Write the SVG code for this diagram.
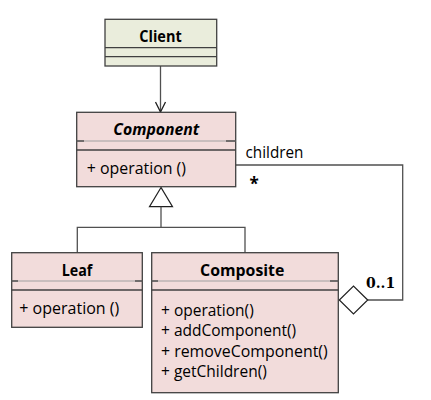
<svg xmlns="http://www.w3.org/2000/svg" width="431" height="400" viewBox="0 0 431 400">
<defs>
<style>
.box{stroke:#404040;stroke-width:1.3}
.client{fill:#eaeddc}
.cls{fill:#f2dcdb}
.sep{stroke:#404040;stroke-width:1.3}
.sepl{stroke:#a0a0a0;stroke-width:1}
.title{font-family:"Open Sans",sans-serif;font-size:15.5px;font-weight:bold;fill:#000;text-anchor:middle}
.m{font-family:"Open Sans",sans-serif;font-size:15.5px;fill:#000}
.conn{stroke:#505050;stroke-width:1.3;fill:none}
</style>
<marker id="open" viewBox="0 0 12 12" refX="11" refY="6" markerWidth="12" markerHeight="12" markerUnits="userSpaceOnUse" orient="auto">
<path d="M1,1 L11,6 L1,11" fill="none" stroke="#202020" stroke-width="1.3"/>
</marker>
</defs>
<g id="connectors">
<line class="conn" x1="160.5" y1="66" x2="160.5" y2="112" marker-end="url(#open)"/>
<polygon points="161,187.5 149.5,206.7 172.5,206.7" fill="#fff" stroke="#202020" stroke-width="1.2"/>
<polyline class="conn" points="161,206.7 161,227.3"/>
<polyline class="conn" points="77.3,252.7 77.3,227.3 245,227.3 245,252.7"/>
<polyline class="conn" points="235.7,165 402.7,165 402.7,300 367.7,300"/>
<polygon points="367.7,300 353.5,286 339.3,300 353.5,314" fill="#fff" stroke="#202020" stroke-width="1.2"/>
<text x="245.5" y="157.5" class="m" textLength="58" lengthAdjust="spacingAndGlyphs">children</text>
<text x="249.5" y="190" font-family="'Open Sans',sans-serif" font-size="17" font-weight="bold">*</text>
<text x="366" y="288.3" font-family="'DejaVu Serif',serif" font-size="14" font-weight="bold">0..1</text>
</g>
<g id="client">
<rect class="box client" x="105" y="19.3" width="111.7" height="46.7"/>
<line class="sep" x1="105" y1="47.7" x2="216.7" y2="47.7"/>
<line class="sep" x1="105" y1="56.7" x2="216.7" y2="56.7"/>
<text class="title" x="160.5" y="42" textLength="42.4" lengthAdjust="spacingAndGlyphs">Client</text>
</g>
<g id="component">
<rect class="box cls" x="76.7" y="112.3" width="159" height="74.4"/>
<line class="sepl" x1="76.7" y1="141" x2="235.7" y2="141"/>
<line class="sep" x1="76.7" y1="141" x2="84" y2="141"/>
<line class="sep" x1="226" y1="141" x2="235.7" y2="141"/>
<line class="sep" x1="76.7" y1="150" x2="235.7" y2="150"/>
<text class="title" x="156.3" y="134.5" font-style="italic" textLength="86" lengthAdjust="spacingAndGlyphs">Component</text>
<text class="m" x="86.7" y="173.5" textLength="99.3" lengthAdjust="spacingAndGlyphs">+ operation ()</text>
</g>
<g id="leaf">
<rect class="box cls" x="11.7" y="252.7" width="130.6" height="74.6"/>
<line class="sepl" x1="11.7" y1="281" x2="142.3" y2="281"/>
<line class="sep" x1="11.7" y1="281" x2="18" y2="281"/>
<line class="sep" x1="135" y1="281" x2="142.3" y2="281"/>
<line class="sep" x1="11.7" y1="290" x2="142.3" y2="290"/>
<text class="title" x="77" y="275.5" textLength="30.6" lengthAdjust="spacingAndGlyphs">Leaf</text>
<text class="m" x="19.3" y="313.5" textLength="100" lengthAdjust="spacingAndGlyphs">+ operation ()</text>
</g>
<g id="composite">
<rect class="box cls" x="151.7" y="252.7" width="186.6" height="140"/>
<line class="sepl" x1="151.7" y1="281" x2="338.3" y2="281"/>
<line class="sep" x1="151.7" y1="281" x2="158" y2="281"/>
<line class="sep" x1="330" y1="281" x2="338.3" y2="281"/>
<line class="sep" x1="151.7" y1="290" x2="338.3" y2="290"/>
<text class="title" x="242.2" y="275.5" textLength="84.3" lengthAdjust="spacingAndGlyphs">Composite</text>
<text class="m" x="161" y="315.5">+ operation()</text>
<text class="m" x="161" y="336.2">+ addComponent()</text>
<text class="m" x="161" y="356.5" textLength="166.7" lengthAdjust="spacingAndGlyphs">+ removeComponent()</text>
<text class="m" x="161" y="377.2">+ getChildren()</text>
</g>
</svg>
